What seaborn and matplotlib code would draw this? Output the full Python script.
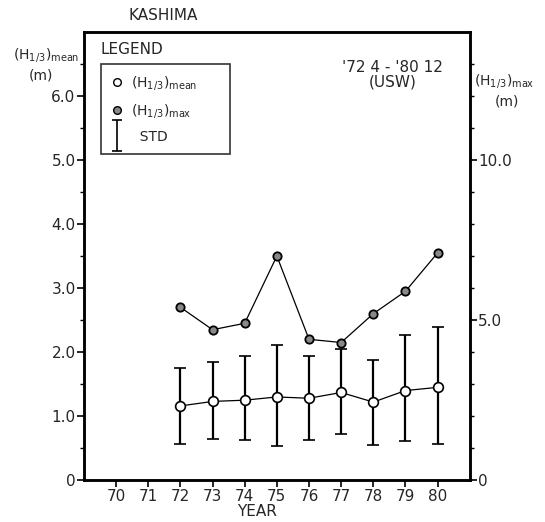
import numpy as np
import pandas as pd
import seaborn as sns
import matplotlib.pyplot as plt
from matplotlib.lines import Line2D
from matplotlib.collections import LineCollection
from matplotlib.container import ErrorbarContainer
from matplotlib.legend_handler import HandlerErrorbar

# data
years = [72, 73, 74, 75, 76, 77, 78, 79, 80]
h_mean = [1.16, 1.23, 1.25, 1.30, 1.28, 1.37, 1.22, 1.40, 1.45]
std_low = [0.56, 0.64, 0.63, 0.53, 0.63, 0.72, 0.55, 0.61, 0.56]
std_high = [1.75, 1.84, 1.94, 2.11, 1.94, 2.05, 1.87, 2.27, 2.40]
h_max = [5.4, 4.7, 4.9, 7.0, 4.4, 4.3, 5.2, 5.9, 7.1]
year_ticks = [70, 71, 72, 73, 74, 75, 76, 77, 78, 79, 80]
left_ticks = [0, 1, 2, 3, 4, 5, 6]
left_labels = ["0", "1.0", "2.0", "3.0", "4.0", "5.0", "6.0"]
right_ticks = [0, 5, 10]
right_labels = ["0", "5.0", "10.0"]

df = pd.DataFrame({"year": years, "mean": h_mean, "max": h_max,
                   "lo": std_low, "hi": std_high})

sns.set_style("ticks")
plt.rcParams["font.family"] = ["DejaVu Sans"]
plt.rcParams["mathtext.default"] = "regular"

fig = plt.figure(figsize=(5.45, 5.22), dpi=100)
ax = fig.add_axes([0.154, 0.080, 0.708, 0.859])
ax2 = ax.twinx()

# std bars
yerr = np.array([df["mean"] - df["lo"], df["hi"] - df["mean"]])
ax.errorbar(df["year"], df["mean"], yerr=yerr, fmt="none", ecolor="black",
            elinewidth=1.6, capsize=4, capthick=1.2, zorder=2)
sns.lineplot(data=df, x="year", y="mean", ax=ax, color="black", lw=0.9,
             marker="o", markersize=7, markerfacecolor="white",
             markeredgecolor="black", markeredgewidth=1.2, zorder=3)
sns.lineplot(data=df, x="year", y="max", ax=ax2, color="black", lw=0.9,
             marker="o", markersize=6, markerfacecolor="#888888",
             markeredgecolor="black", markeredgewidth=1.3, zorder=3)

ax.set_xlim(69, 81)
ax.set_ylim(0, 7)
ax2.set_ylim(0, 14)
ax.set_xticks(year_ticks)
ax.set_xticklabels([str(y) for y in year_ticks], fontsize=11)
ax.set_yticks(left_ticks)
ax.set_yticklabels(left_labels, fontsize=11)
ax.set_yticks(np.arange(0.5, 7, 1.0), minor=True)
ax2.set_yticks(right_ticks)
ax2.set_yticklabels(right_labels, fontsize=11)
ax2.set_yticks(np.arange(1, 14, 1.0), minor=True)

ax.set_ylabel("")
ax2.set_ylabel("")
ax.set_xlabel("YEAR", fontsize=11)
ax.xaxis.set_label_coords(0.448, -0.052)

for a in (ax, ax2):
    for s in a.spines.values():
        s.set_visible(True)
        s.set_linewidth(1.8)
        s.set_color("black")
    a.tick_params(which="major", length=5, width=1.2, color="black", pad=1)
    a.tick_params(which="minor", length=3, width=1.0, color="black")

# legend
h1 = Line2D([], [], ls="none", marker="o", markersize=5.5,
            markerfacecolor="white", markeredgecolor="black")
h2 = Line2D([], [], ls="none", marker="o", markersize=5.5,
            markerfacecolor="#888888", markeredgecolor="black")
cap = Line2D([], [], ls="none", marker="_", markersize=7, markeredgewidth=1.2,
             color="black")
bar = LineCollection([], colors="black", linewidths=1.2)
h3 = ErrorbarContainer((None, (cap, cap), (bar,)), has_xerr=False, has_yerr=True)
leg = ax.legend([h1, h2, h3],
                [r"(H$_{1/3}$)$_{mean}$", r"(H$_{1/3}$)$_{max}$", "  STD"],
                handler_map={ErrorbarContainer: HandlerErrorbar(xerr_size=0.5,
                                                                yerr_size=1.1)},
                loc="upper left", bbox_to_anchor=(0.044, 0.919, 0.334, 0.01),
                mode="expand", fontsize=10, frameon=True, fancybox=False,
                handlelength=0.8, handletextpad=0.6, borderpad=0.75,
                labelspacing=0.7, borderaxespad=0)
leg.get_frame().set_edgecolor("black")
leg.get_frame().set_linewidth(1.2)
ax.text(0.044, 0.945, "LEGEND", transform=ax.transAxes, fontsize=11,
        ha="left", va="bottom")

fig.text(0.30, 0.97, "KASHIMA", fontsize=11, ha="center", va="center")
fig.text(0.085, 0.895, r"(H$_{1/3}$)$_{mean}$", fontsize=10, ha="center",
         va="center")
fig.text(0.075, 0.855, "(m)", fontsize=10, ha="center", va="center")
fig.text(0.925, 0.845, r"(H$_{1/3}$)$_{max}$", fontsize=10, ha="center",
         va="center")
fig.text(0.93, 0.805, "(m)", fontsize=10, ha="center", va="center")
ax.text(0.80, 0.905, "'72 4 - '80 12\n(USW)", transform=ax.transAxes,
        fontsize=11, ha="center", va="center", linespacing=0.95)

fig.savefig("out.png", dpi=100)
